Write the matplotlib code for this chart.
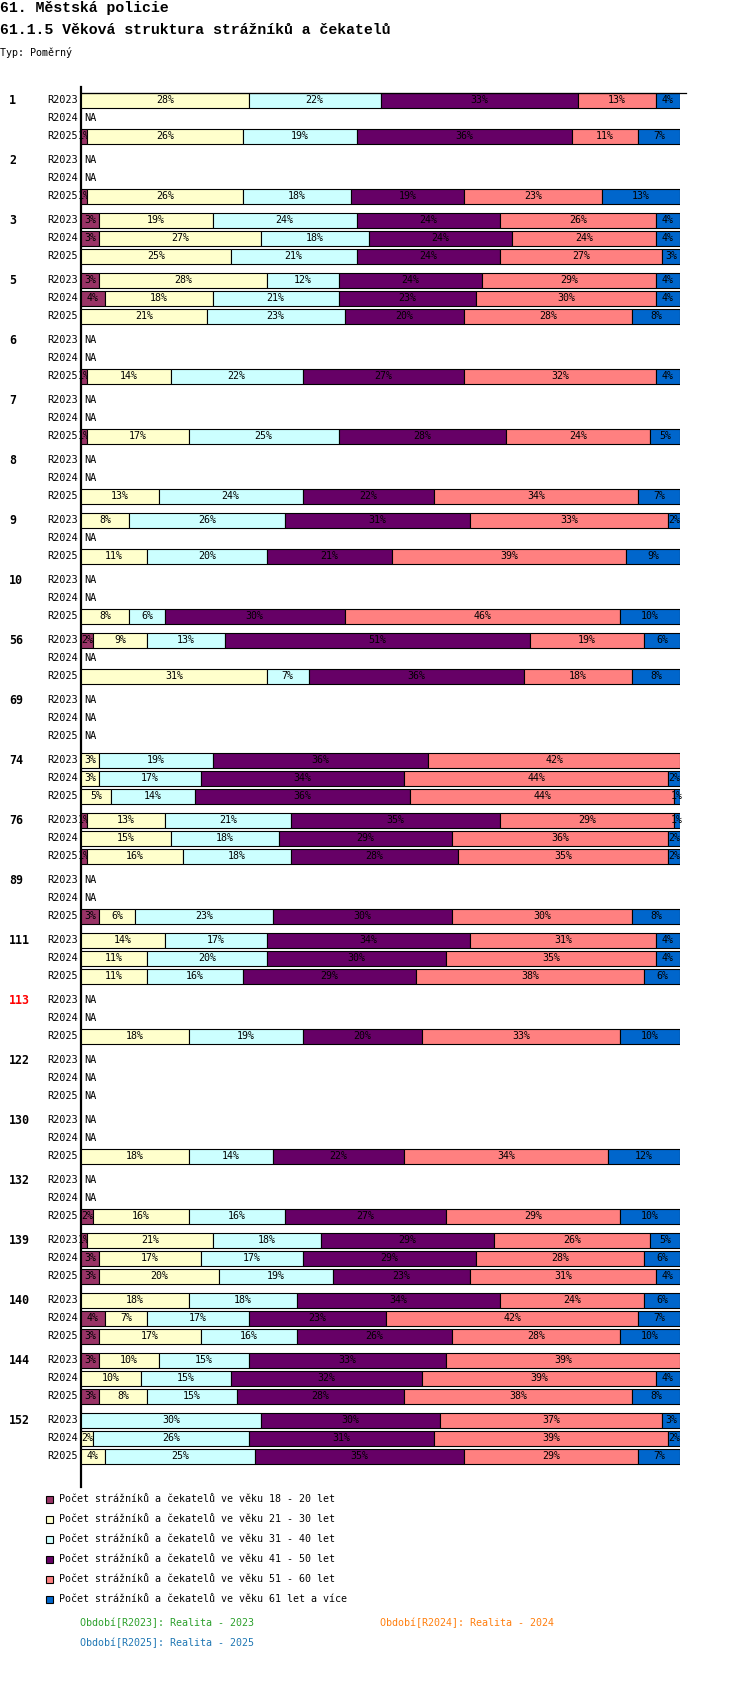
import numpy as np
import matplotlib
matplotlib.use('Agg')
import matplotlib.pyplot as plt
from matplotlib import transforms
from matplotlib.patches import Rectangle

N = np.nan

# ---------------- data ----------------
groups = ['1', '2', '3', '5', '6', '7', '8', '9', '10', '56', '69', '74', '76',
          '89', '111', '113', '122', '130', '132', '139', '140', '144', '152']
periods = ['R2023', 'R2024', 'R2025']
highlight_groups = ['113']

series_names = [
    'Počet strážníků a čekatelů ve věku 18 - 20 let',
    'Počet strážníků a čekatelů ve věku 21 - 30 let',
    'Počet strážníků a čekatelů ve věku 31 - 40 let',
    'Počet strážníků a čekatelů ve věku 41 - 50 let',
    'Počet strážníků a čekatelů ve věku 51 - 60 let',
    'Počet strážníků a čekatelů ve věku 61 let a více',
]
series_colors = ['#993366', '#FFFFCC', '#CCFFFF', '#660066', '#FF8080', '#0066CC']

# rows: group-major, period-minor (R2023, R2024, R2025); NaN = NA
age_18_20 = [0, N, 1,   N, N, 1,   3, 3, 0,   3, 4, 0,   N, N, 1,   N, N, 1,
             N, N, 0,   0, N, 0,   N, N, 0,   2, N, 0,   N, N, N,   0, 0, 0,
             1, 0, 1,   N, N, 3,   0, 0, 0,   N, N, 0,   N, N, N,   N, N, 0,
             N, N, 2,   1, 3, 3,   0, 4, 3,   3, 0, 3,   0, 0, 0]
age_21_30 = [28, N, 26,  N, N, 26,  19, 27, 25,  28, 18, 21,  N, N, 14,  N, N, 17,
             N, N, 13,   8, N, 11,  N, N, 8,     9, N, 31,    N, N, N,    3, 3, 5,
             13, 15, 16, N, N, 6,   14, 11, 11,  N, N, 18,    N, N, N,    N, N, 18,
             N, N, 16,   21, 17, 20, 18, 7, 17,  10, 10, 8,   0, 2, 4]
age_31_40 = [22, N, 19,  N, N, 18,  24, 18, 21,  12, 21, 23,  N, N, 22,  N, N, 25,
             N, N, 24,   26, N, 20, N, N, 6,     13, N, 7,    N, N, N,    19, 17, 14,
             21, 18, 18, N, N, 23,  17, 20, 16,  N, N, 19,    N, N, N,    N, N, 14,
             N, N, 16,   18, 17, 19, 18, 17, 16, 15, 15, 15,  30, 26, 25]
age_41_50 = [33, N, 36,  N, N, 19,  24, 24, 24,  24, 23, 20,  N, N, 27,  N, N, 28,
             N, N, 22,   31, N, 21, N, N, 30,    51, N, 36,   N, N, N,    36, 34, 36,
             35, 29, 28, N, N, 30,  34, 30, 29,  N, N, 20,    N, N, N,    N, N, 22,
             N, N, 27,   29, 29, 23, 34, 23, 26, 33, 32, 28,  30, 31, 35]
age_51_60 = [13, N, 11,  N, N, 23,  26, 24, 27,  29, 30, 28,  N, N, 32,  N, N, 24,
             N, N, 34,   33, N, 39, N, N, 46,    19, N, 18,   N, N, N,    42, 44, 44,
             29, 36, 35, N, N, 30,  31, 35, 38,  N, N, 33,    N, N, N,    N, N, 34,
             N, N, 29,   26, 28, 31, 24, 42, 28, 39, 39, 38,  37, 39, 29]
age_61_plus = [4, N, 7,  N, N, 13,  4, 4, 3,    4, 4, 8,     N, N, 4,    N, N, 5,
               N, N, 7,  2, N, 9,   N, N, 10,   6, N, 8,     N, N, N,    0, 2, 1,
               1, 2, 2,  N, N, 8,   4, 4, 6,    N, N, 10,    N, N, N,    N, N, 12,
               N, N, 10, 5, 6, 4,   6, 7, 10,   0, 4, 8,     3, 2, 7]

period_notes = ['Období[R2023]: Realita - 2023',
                'Období[R2024]: Realita - 2024',
                'Období[R2025]: Realita - 2025']
period_colors = ['#2ca02c', '#ff7f0e', '#1f77b4']

# ---------------- layout ----------------
W, H = 750, 1682
fig = plt.figure(figsize=(W / 100, H / 100), dpi=100)
fig.patch.set_facecolor('white')

def fx(px):
    return px / W

def fy(py):
    return 1 - py / H

MONO = 'DejaVu Sans Mono'
TITLE = 'Liberation Mono'

ax_top, ax_bot = 87, 1487
x_left, x_right = 81, 680
ax = fig.add_axes([fx(x_left), fy(ax_bot), (x_right - x_left) / W, (ax_bot - ax_top) / H])
ax.set_xlim(0, 100)
ax.set_ylim(ax_bot, ax_top)
for s in ['top', 'right', 'bottom']:
    ax.spines[s].set_visible(False)
ax.spines['left'].set_linewidth(1.6)
ax.spines['left'].set_zorder(1)
ax.set_xticks([])
ax.set_yticks([])
ax.patch.set_alpha(0)

first_y, group_pitch, row_pitch, bar_h = 100, 60, 18, 15
n_g, n_p = len(groups), len(periods)
g_idx = np.repeat(np.arange(n_g), n_p)
p_idx = np.tile(np.arange(n_p), n_g)
y_rows = first_y + g_idx * group_pitch + p_idx * row_pitch

data = np.array([age_18_20, age_21_30, age_31_40, age_41_50, age_51_60, age_61_plus], dtype=float)
valid = ~np.isnan(data).all(axis=0)
totals = np.nansum(data, axis=0)
totals[totals == 0] = 1
pct = np.nan_to_num(data) / totals * 100
lefts = np.cumsum(pct, axis=0) - pct

for k in range(len(series_names)):
    m = valid & (pct[k] > 0)
    ax.barh(y_rows[m], pct[k][m], left=lefts[k][m], height=bar_h,
            color=series_colors[k], edgecolor='black', linewidth=0.8, zorder=2 + 2 * k)
    for yy, ll, vv, raw in zip(y_rows[m], lefts[k][m], pct[k][m], data[k][m]):
        ax.text(ll + vv / 2, yy, f'{raw:.0f}%', ha='center', va='center',
                fontsize=7.2, family=MONO, color='black', zorder=3 + 2 * k, clip_on=False)

# top frame line
blend_ax = transforms.blended_transform_factory(ax.transAxes, ax.transData)
ax.plot([0, 1.01], [y_rows[0] - bar_h / 2] * 2, color='black', lw=0.9,
        transform=blend_ax, clip_on=False, zorder=20)

# row labels, group labels, NA
blend = transforms.blended_transform_factory(fig.transFigure, ax.transData)
for i, yy in enumerate(y_rows):
    ax.text(fx(78), yy, periods[p_idx[i]], transform=blend, ha='right', va='center',
            fontsize=7.4, family=MONO, color='black')
    if not valid[i]:
        ax.text(fx(84), yy, 'NA', transform=blend, ha='left', va='center',
                fontsize=7.4, family=MONO, color='black')
for g, name in enumerate(groups):
    ax.text(fx(9), y_rows[g * n_p], name, transform=blend, ha='left', va='center',
            fontsize=8.4, family=MONO, fontweight='bold',
            color='red' if name in highlight_groups else 'black')

# titles
fig.text(fx(0), fy(8), '61. Městská policie', ha='left', va='center',
         fontsize=10.7, family=TITLE, fontweight='bold')
fig.text(fx(0), fy(30), '61.1.5 Věková struktura strážníků a čekatelů', ha='left', va='center',
         fontsize=10.7, family=TITLE, fontweight='bold')
fig.text(fx(0), fy(52), 'Typ: Poměrný', ha='left', va='center', fontsize=7.2, family=MONO)

# legend
leg_y0, leg_step = 1499, 20
for k, (name, col) in enumerate(zip(series_names, series_colors)):
    yy = leg_y0 + k * leg_step
    fig.add_artist(Rectangle((fx(45.5), fy(yy + 3.5)), 7 / W, 7 / H, transform=fig.transFigure,
                             facecolor=col, edgecolor='black', linewidth=0.8))
    fig.text(fx(59), fy(yy), name, ha='left', va='center', fontsize=7.2, family=MONO)

note_pos = [(80, 1623), (380, 1623), (80, 1643)]
for txt, col, (px, py) in zip(period_notes, period_colors, note_pos):
    fig.text(fx(px), fy(py), txt, ha='left', va='center', fontsize=7.2, family=MONO, color=col)

fig.savefig('out.png', dpi=100, facecolor='white')
